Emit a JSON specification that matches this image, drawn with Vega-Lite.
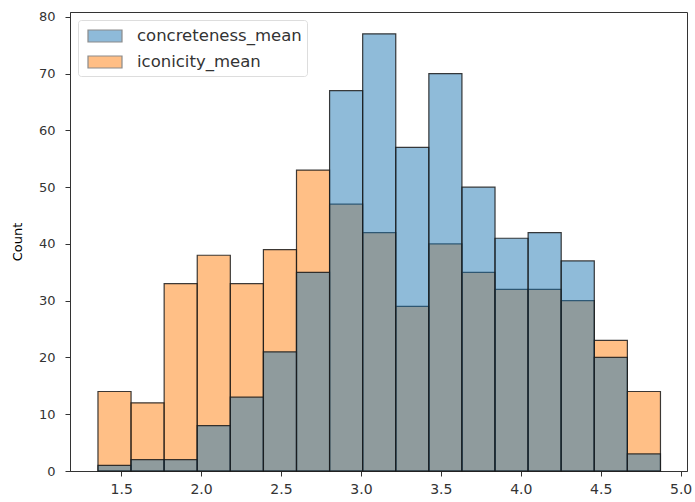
{
  "$schema": "https://vega.github.io/schema/vega-lite/v6.json",
  "autosize": "none",
  "padding": {"left": 70, "top": 12, "right": 8, "bottom": 31},
  "width": 617,
  "height": 459,
  "background": "white",
  "config": {
    "font": "DejaVu Sans",
    "view": {"stroke": "#333", "strokeWidth": 1},
    "axis": {"labelFont": "DejaVu Sans", "titleFont": "DejaVu Sans", "labelColor": "#333", "tickColor": "#333", "domainColor": "#333", "labelFontSize": 13, "titleFontSize": 13, "titleFontWeight": "normal", "grid": false, "tickSize": 5}
  },
  "data": {
    "values": [
      {"variable": "iconicity_mean", "bin": 1, "start": 1.355, "end": 1.562, "count": 14},
      {"variable": "iconicity_mean", "bin": 2, "start": 1.562, "end": 1.769, "count": 12},
      {"variable": "iconicity_mean", "bin": 3, "start": 1.769, "end": 1.976, "count": 33},
      {"variable": "iconicity_mean", "bin": 4, "start": 1.976, "end": 2.183, "count": 38},
      {"variable": "iconicity_mean", "bin": 5, "start": 2.183, "end": 2.39, "count": 33},
      {"variable": "iconicity_mean", "bin": 6, "start": 2.39, "end": 2.597, "count": 39},
      {"variable": "iconicity_mean", "bin": 7, "start": 2.597, "end": 2.804, "count": 53},
      {"variable": "iconicity_mean", "bin": 8, "start": 2.804, "end": 3.011, "count": 47},
      {"variable": "iconicity_mean", "bin": 9, "start": 3.011, "end": 3.218, "count": 42},
      {"variable": "iconicity_mean", "bin": 10, "start": 3.218, "end": 3.425, "count": 29},
      {"variable": "iconicity_mean", "bin": 11, "start": 3.425, "end": 3.632, "count": 40},
      {"variable": "iconicity_mean", "bin": 12, "start": 3.632, "end": 3.839, "count": 35},
      {"variable": "iconicity_mean", "bin": 13, "start": 3.839, "end": 4.046, "count": 32},
      {"variable": "iconicity_mean", "bin": 14, "start": 4.046, "end": 4.253, "count": 32},
      {"variable": "iconicity_mean", "bin": 15, "start": 4.253, "end": 4.46, "count": 30},
      {"variable": "iconicity_mean", "bin": 16, "start": 4.46, "end": 4.667, "count": 23},
      {"variable": "iconicity_mean", "bin": 17, "start": 4.667, "end": 4.874, "count": 14},
      {"variable": "concreteness_mean", "bin": 1, "start": 1.355, "end": 1.562, "count": 1},
      {"variable": "concreteness_mean", "bin": 2, "start": 1.562, "end": 1.769, "count": 2},
      {"variable": "concreteness_mean", "bin": 3, "start": 1.769, "end": 1.976, "count": 2},
      {"variable": "concreteness_mean", "bin": 4, "start": 1.976, "end": 2.183, "count": 8},
      {"variable": "concreteness_mean", "bin": 5, "start": 2.183, "end": 2.39, "count": 13},
      {"variable": "concreteness_mean", "bin": 6, "start": 2.39, "end": 2.597, "count": 21},
      {"variable": "concreteness_mean", "bin": 7, "start": 2.597, "end": 2.804, "count": 35},
      {"variable": "concreteness_mean", "bin": 8, "start": 2.804, "end": 3.011, "count": 67},
      {"variable": "concreteness_mean", "bin": 9, "start": 3.011, "end": 3.218, "count": 77},
      {"variable": "concreteness_mean", "bin": 10, "start": 3.218, "end": 3.425, "count": 57},
      {"variable": "concreteness_mean", "bin": 11, "start": 3.425, "end": 3.632, "count": 70},
      {"variable": "concreteness_mean", "bin": 12, "start": 3.632, "end": 3.839, "count": 50},
      {"variable": "concreteness_mean", "bin": 13, "start": 3.839, "end": 4.046, "count": 41},
      {"variable": "concreteness_mean", "bin": 14, "start": 4.046, "end": 4.253, "count": 42},
      {"variable": "concreteness_mean", "bin": 15, "start": 4.253, "end": 4.46, "count": 37},
      {"variable": "concreteness_mean", "bin": 16, "start": 4.46, "end": 4.667, "count": 20},
      {"variable": "concreteness_mean", "bin": 17, "start": 4.667, "end": 4.874, "count": 3}
    ]
  },
  "mark": {"type": "bar", "fillOpacity": 0.5, "stroke": "#1a1a1a", "strokeWidth": 1.2, "strokeOpacity": 0.85},
  "encoding": {
    "x": {
      "field": "start", "type": "quantitative",
      "scale": {"domain": [1.18, 5.04], "nice": false, "zero": false},
      "axis": {"values": [1.5, 2.0, 2.5, 3.0, 3.5, 4.0, 4.5, 5.0], "format": ".1f", "title": null, "labelPadding": 6, "labelFontSize": 14}
    },
    "x2": {"field": "end"},
    "y": {
      "field": "count", "type": "quantitative",
      "scale": {"domain": [0, 80.85], "nice": false},
      "axis": {"values": [0, 10, 20, 30, 40, 50, 60, 70, 80], "title": "Count", "titlePadding": 14, "labelPadding": 10}
    },
    "y2": {"datum": 0},
    "color": {
      "field": "variable", "type": "nominal",
      "scale": {"domain": ["concreteness_mean", "iconicity_mean"], "range": ["#1f77b4", "#ff7f0e"]},
      "legend": {
        "title": null,
        "orient": "none",
        "legendX": 8,
        "legendY": 8,
        "labelFontSize": 16.5,
        "labelFont": "DejaVu Sans",
        "labelColor": "#333",
        "labelLimit": 400,
        "symbolType": "M-0.6,-0.6 L2.8,-0.6 L2.8,0.6 L-0.6,0.6 Z",
        "symbolSize": 400,
        "symbolOpacity": 0.5,
        "symbolStrokeColor": "#1a1a1a",
        "symbolStrokeWidth": 1.2,
        "rowPadding": 6,
        "labelOffset": 32,
        "padding": 5,
        "strokeColor": "#ddd",
        "fillColor": "white",
        "cornerRadius": 3
      }
    }
  }
}
